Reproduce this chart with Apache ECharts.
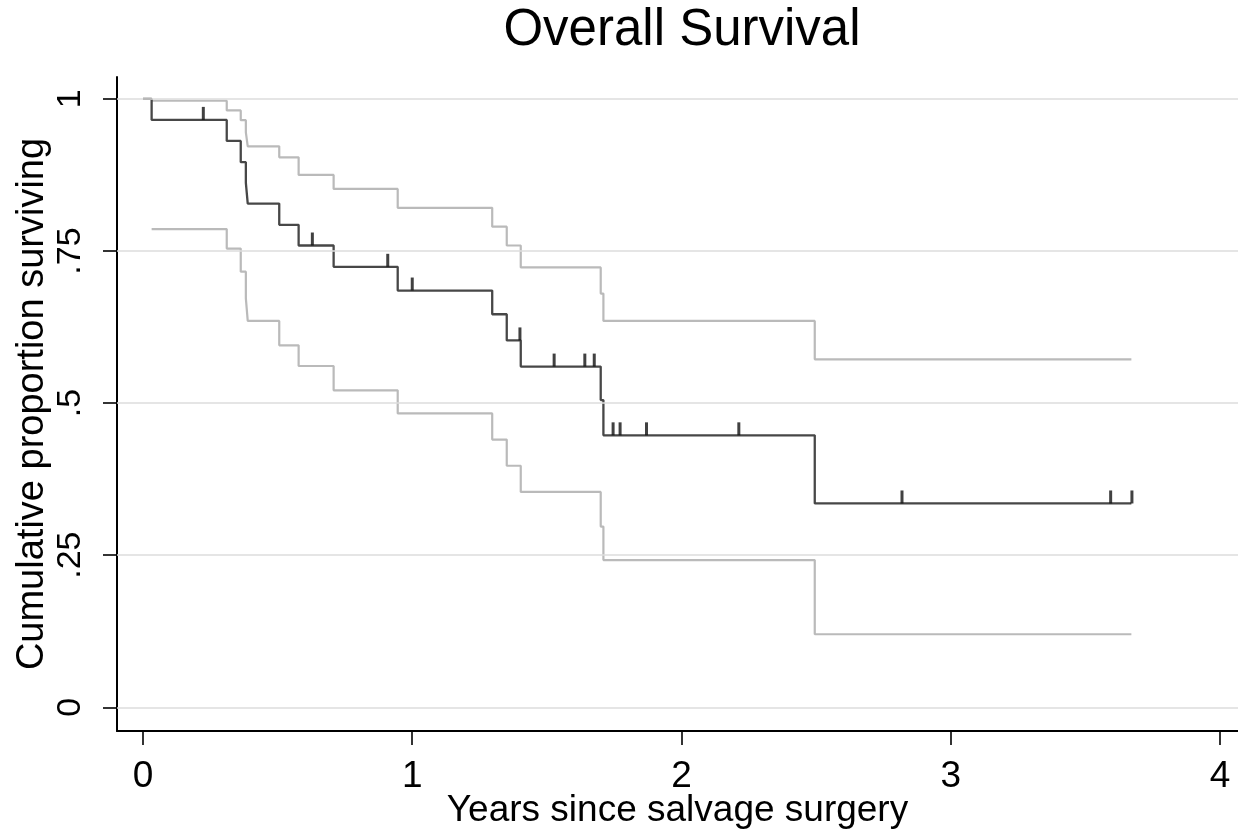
<!DOCTYPE html>
<html>
<head>
<meta charset="utf-8">
<script src="https://cdn.jsdelivr.net/npm/echarts@6/dist/echarts.min.js"></script>
<style>
  html, body { margin: 0; padding: 0; background: #fff; }
  #chart { width: 1238px; height: 832px; }
</style>
</head>
<body>
<div id="chart"></div>
<script>
// ---- Data (Kaplan-Meier, years since salvage surgery) ----
const eventTimes = [0, 0.032, 0.311, 0.363, 0.382, 0.389, 0.506, 0.578, 0.708, 0.946, 1.297, 1.351, 1.403, 1.700, 1.710, 2.495];
const survival   = [1, 0.9655, 0.931, 0.896, 0.862, 0.828, 0.793, 0.759, 0.724, 0.685, 0.646, 0.603, 0.560, 0.505, 0.447, 0.335];
const ciTimes    = [0.032, 0.311, 0.363, 0.382, 0.389, 0.506, 0.578, 0.708, 0.946, 1.297, 1.351, 1.403, 1.700, 1.710, 2.495];
const upperCI    = [0.997, 0.981, 0.965, 0.945, 0.922, 0.904, 0.875, 0.852, 0.821, 0.790, 0.759, 0.723, 0.680, 0.635, 0.572];
const lowerCI    = [0.786, 0.754, 0.716, 0.672, 0.635, 0.595, 0.561, 0.521, 0.483, 0.440, 0.397, 0.354, 0.297, 0.242, 0.120];
const censorTimes = [0.224, 0.629, 0.909, 1.0, 1.400, 1.527, 1.641, 1.676, 1.746, 1.772, 1.870, 2.213, 2.819, 3.594, 3.673];
const endTime = 3.671;
const xTicks = [0, 1, 2, 3, 4];
const xTickLabels = ["0", "1", "2", "3", "4"];
const yTicks = [0, 0.25, 0.5, 0.75, 1];
const yTickLabels = ["0", ".25", ".5", ".75", "1"];

// ---- Build series data ----
function stepData(times, vals, end) {
  const d = times.map((t, i) => [t, vals[i]]);
  d.push([end, vals[vals.length - 1]]);
  return d;
}
function survAt(t) {
  let s = survival[0];
  for (let i = 0; i < eventTimes.length; i++) {
    if (eventTimes[i] < t) s = survival[i];
  }
  return s;
}
const mainData = stepData(eventTimes, survival, endTime);
const upperData = stepData(ciTimes, upperCI, endTime);
const lowerData = stepData(ciTimes, lowerCI, endTime);
const censorData = censorTimes.map(t => [t, survAt(t)]);

const FONT = '"Liberation Sans", Arial, sans-serif';
const chart = echarts.init(document.getElementById('chart'), null, { renderer: 'canvas' });

chart.setOption({
  backgroundColor: '#ffffff',
  animation: false,
  graphic: [{
    type: 'text',
    x: 682, y: 5,
    style: {
      text: 'Overall Survival',
      fill: '#000',
      font: '51px ' + FONT,
      textAlign: 'center',
      textVerticalAlign: 'top'
    }
  }],
  grid: { left: 117, right: 0, top: 77, bottom: 101, containLabel: false, outerBoundsMode: 'none' },
  xAxis: {
    type: 'value',
    min: -0.0966,
    max: 4.067,
    name: 'Years since salvage surgery',
    nameLocation: 'middle',
    nameGap: 61,
    nameMoveOverlap: false,
    nameTextStyle: { color: '#000', fontSize: 37, fontFamily: FONT },
    axisLine: { show: true, onZero: false, lineStyle: { color: '#000', width: 2 } },
    axisTick: { show: true, customValues: xTicks, length: 14, lineStyle: { color: '#000', width: 1.6 } },
    axisLabel: {
      customValues: xTicks,
      formatter: v => xTickLabels[xTicks.indexOf(v)] ?? '',
      color: '#000', fontSize: 37, fontFamily: FONT, margin: 27
    },
    splitLine: { show: false }
  },
  yAxis: {
    type: 'value',
    min: -0.039,
    max: 1.036,
    name: 'Cumulative proportion surviving',
    nameLocation: 'middle',
    nameGap: 65,
    nameMoveOverlap: false,
    nameTextStyle: { color: '#000', fontSize: 38, fontFamily: FONT },
    axisLine: { show: true, onZero: false, lineStyle: { color: '#000', width: 2 } },
    axisTick: { show: true, customValues: yTicks, length: 14, lineStyle: { color: '#000', width: 1.6 } },
    axisLabel: {
      customValues: yTicks,
      rotate: 90,
      formatter: v => yTickLabels[yTicks.indexOf(v)] ?? '',
      color: '#000', fontSize: 34, fontFamily: FONT, margin: 29
    },
    splitLine: { show: false }
  },
  series: [
    {
      name: 'grid',
      type: 'line',
      data: [],
      silent: true,
      markLine: {
        silent: true,
        symbol: 'none',
        label: { show: false },
        lineStyle: { color: '#dcdcdc', width: 1.7, type: 'solid' },
        data: yTicks.map(v => ({ yAxis: v }))
      }
    },
    {
      name: 'Upper CI',
      type: 'line',
      step: 'end',
      data: upperData,
      showSymbol: false,
      lineStyle: { color: '#bababa', width: 2.2 },
      z: 3
    },
    {
      name: 'Lower CI',
      type: 'line',
      step: 'end',
      data: lowerData,
      showSymbol: false,
      lineStyle: { color: '#bababa', width: 2.2 },
      z: 3
    },
    {
      name: 'Survival',
      type: 'line',
      step: 'end',
      data: mainData,
      showSymbol: false,
      lineStyle: { color: '#474747', width: 2.3 },
      z: 4
    },
    {
      name: 'Censored',
      type: 'scatter',
      data: censorData,
      symbol: 'rect',
      symbolSize: [3, 13],
      symbolOffset: [0, -6.5],
      itemStyle: { color: '#111' },
      z: 5
    }
  ]
});
</script>
</body>
</html>
